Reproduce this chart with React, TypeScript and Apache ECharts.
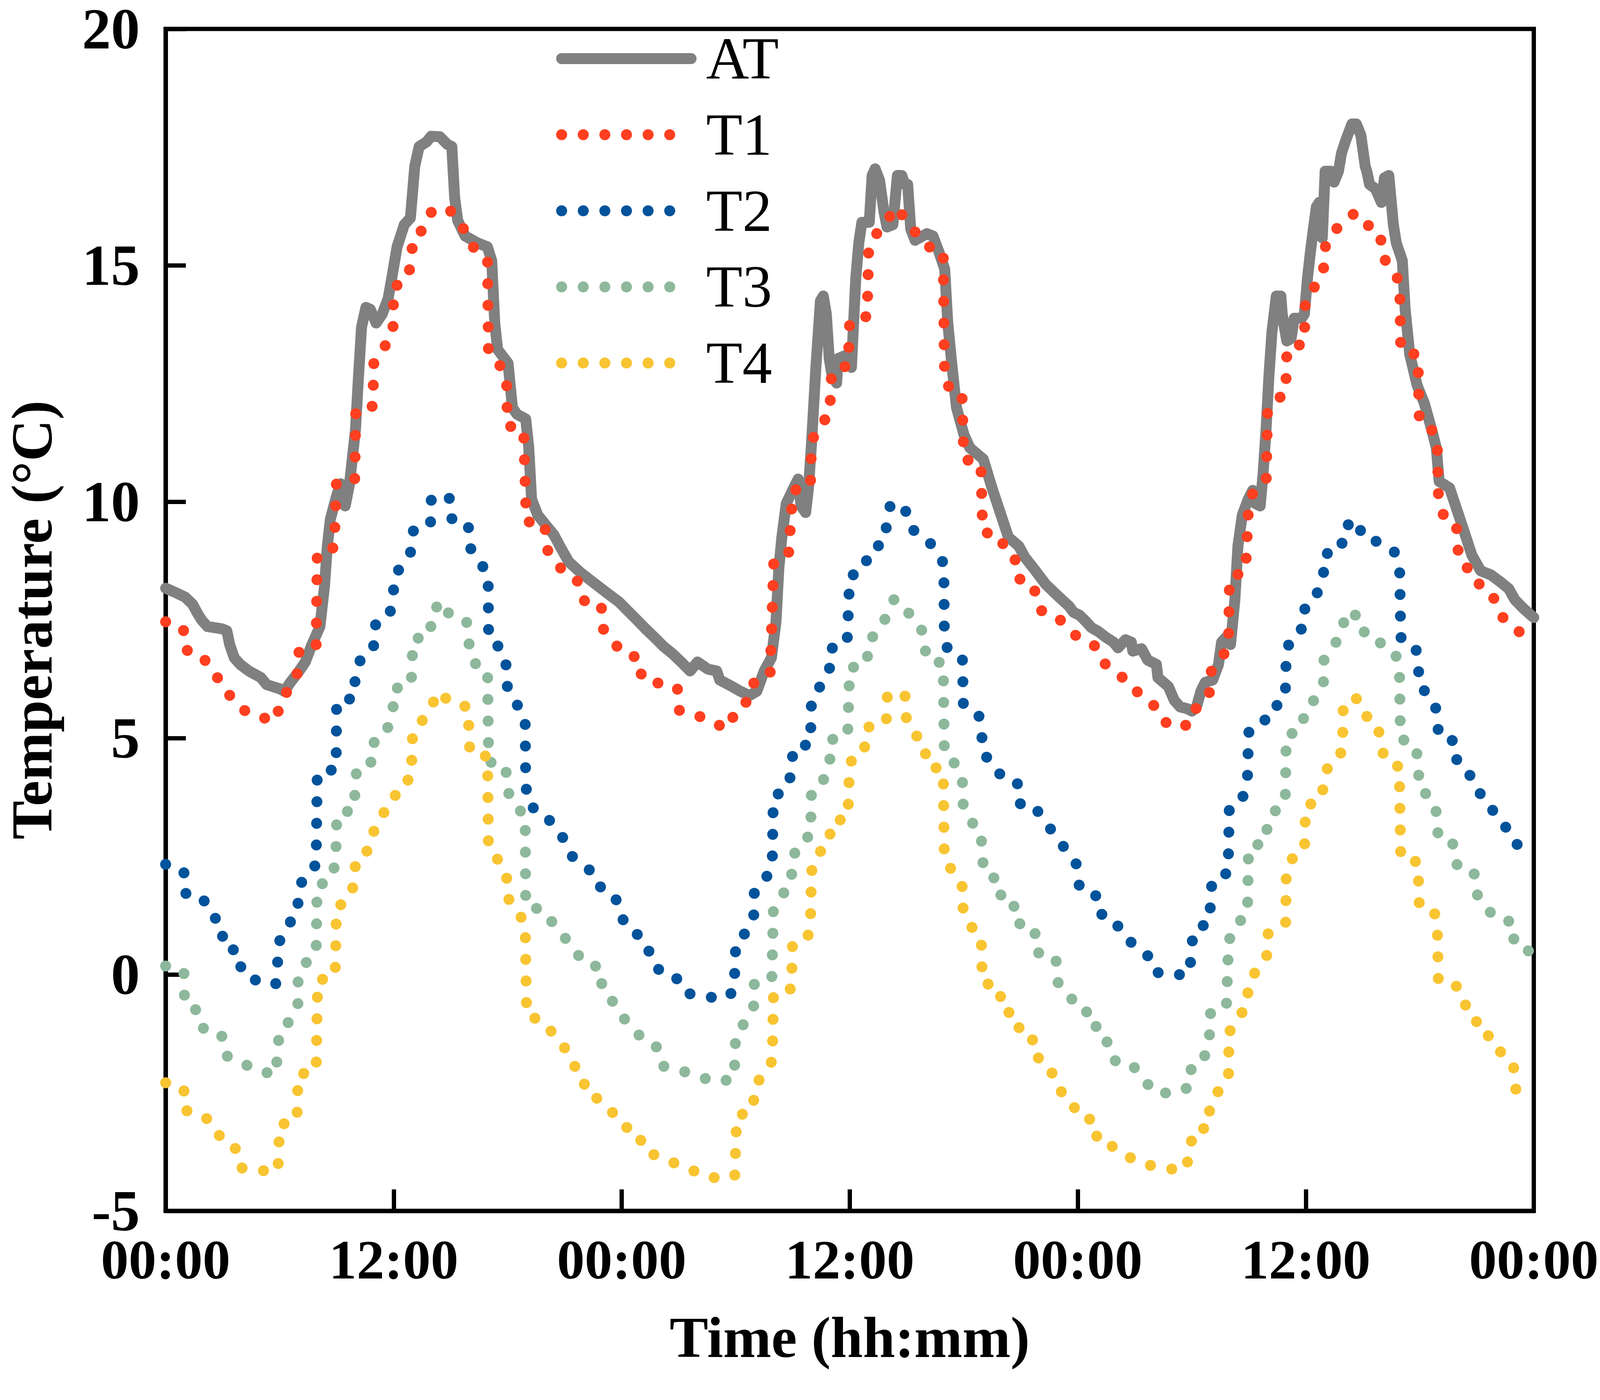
import React, { useEffect, useRef } from 'react';
import * as echarts from 'echarts';

// Hours since start (0..72) and temperatures in °C
const xTickHours = [0, 12, 24, 36, 48, 60, 72];
const xTickLabels = ['00:00', '12:00', '00:00', '12:00', '00:00', '12:00', '00:00'];
const seriesNames = ['AT', 'T1', 'T2', 'T3', 'T4'];

const AT: number[][] = [
  [0, 8.17], [0.57, 8.07], [1.03, 7.98], [1.42, 7.83], [1.66, 7.65], [1.89, 7.5], [2.2, 7.36], [2.98, 7.31], [3.22, 7.27], [3.37, 6.98],
  [3.61, 6.7], [3.92, 6.56], [4.38, 6.42], [5.01, 6.28], [5.32, 6.13], [6.02, 6.04], [6.25, 5.99], [6.57, 6.18], [7.03, 6.42], [7.35, 6.61],
  [7.66, 6.94], [8.12, 7.36], [8.36, 8.21], [8.51, 9.06], [8.67, 9.63], [8.98, 10.1], [9.21, 10.38], [9.45, 9.91], [9.68, 10.38], [9.99, 11.52],
  [10.15, 12.65], [10.31, 13.69], [10.54, 14.11], [10.77, 14.07], [11.08, 13.78], [11.4, 13.97], [11.71, 14.3], [11.94, 14.82], [12.18, 15.39], [12.56, 15.86],
  [12.88, 16.0], [13.11, 17.09], [13.34, 17.51], [13.73, 17.61], [13.97, 17.73], [14.43, 17.72], [14.82, 17.56], [15.06, 17.51], [15.21, 16.43], [15.37, 15.95],
  [15.76, 15.62], [16.38, 15.48], [16.93, 15.39], [17.16, 15.1], [17.32, 13.78], [17.47, 13.22], [18.02, 12.93], [18.25, 11.99], [18.49, 11.85], [18.95, 11.75],
  [19.11, 11.14], [19.26, 10.05], [19.58, 9.72], [20.04, 9.49], [20.43, 9.3], [20.75, 9.06], [21.21, 8.73], [21.84, 8.5], [22.61, 8.26], [23.39, 8.02],
  [23.86, 7.88], [24.33, 7.69], [24.8, 7.5], [25.26, 7.31], [25.73, 7.13], [26.2, 6.94], [26.66, 6.79], [27.13, 6.61], [27.6, 6.42], [27.99, 6.61],
  [28.53, 6.46], [29.0, 6.42], [29.16, 6.23], [29.63, 6.13], [30.25, 5.99], [30.72, 5.9], [31.11, 5.99], [31.5, 6.42], [31.88, 6.7], [32.12, 7.46],
  [32.27, 8.59], [32.43, 9.25], [32.66, 9.96], [33.05, 10.29], [33.29, 10.48], [33.44, 9.91], [33.68, 9.77], [33.83, 10.29], [33.99, 11.23], [34.22, 12.84],
  [34.46, 14.25], [34.61, 14.35], [34.77, 13.97], [34.92, 13.03], [35.08, 12.65], [35.31, 12.51], [35.39, 13.03], [35.94, 13.12], [36.09, 12.84], [36.32, 14.73],
  [36.48, 15.48], [36.64, 15.91], [37.03, 15.91], [37.18, 16.9], [37.34, 17.04], [37.57, 16.8], [37.8, 16.14], [37.96, 15.81], [38.27, 15.86], [38.51, 16.9],
  [38.74, 16.9], [38.9, 16.71], [39.05, 16.71], [39.21, 15.77], [39.44, 15.53], [40.06, 15.67], [40.38, 15.62], [40.69, 15.29], [41.0, 14.92], [41.16, 13.78],
  [41.39, 12.84], [41.62, 11.99], [42.01, 11.42], [42.32, 11.14], [43.03, 10.9], [43.49, 10.29], [43.96, 9.72], [44.35, 9.25], [44.9, 9.06], [45.21, 8.83],
  [45.68, 8.59], [46.3, 8.26], [46.92, 8.02], [47.54, 7.79],
  [47.78, 7.66], [48.09, 7.6], [48.4, 7.48], [48.71, 7.34], [49.1, 7.25], [49.49, 7.13], [49.88, 7.03], [50.12, 6.91], [50.51, 7.08], [50.82, 7.03],
  [50.9, 6.84], [51.36, 6.89], [51.68, 6.65], [52.14, 6.56], [52.22, 6.28], [52.77, 6.09], [53.08, 5.8], [53.39, 5.66], [53.78, 5.62], [54.01, 5.57],
  [54.25, 5.66], [54.48, 5.99], [54.71, 6.18], [55.1, 6.23], [55.41, 6.56], [55.57, 7.03], [55.8, 7.13], [56.04, 6.98], [56.27, 7.93], [56.43, 9.06],
  [56.66, 9.72], [56.97, 10.05], [57.21, 10.24], [57.36, 9.96], [57.6, 9.91], [57.75, 10.57], [57.91, 11.52], [58.06, 12.65], [58.22, 13.59], [58.45, 14.35],
  [58.69, 14.35], [58.76, 13.97], [59.0, 13.4], [59.23, 13.45], [59.39, 13.88], [59.78, 13.88], [59.93, 13.97], [60.09, 14.73], [60.25, 15.3], [60.4, 15.77],
  [60.56, 16.24], [60.71, 16.33], [60.87, 15.58], [61.02, 16.99], [61.34, 16.99], [61.49, 16.76], [61.72, 16.99], [61.88, 17.37], [62.11, 17.65], [62.43, 17.99],
  [62.66, 17.99], [62.9, 17.75], [63.13, 17.09], [63.21, 16.99], [63.36, 16.71], [63.67, 16.62], [63.98, 16.33], [64.14, 16.85], [64.37, 16.9], [64.61, 15.86],
  [64.76, 15.48], [65.08, 15.1], [65.23, 14.07], [65.47, 13.12], [65.86, 12.46], [66.24, 12.08], [66.63, 11.52], [66.87, 11.14], [67.02, 10.43], [67.57, 10.29],
  [67.96, 9.82], [68.35, 9.35], [68.74, 8.87], [69.2, 8.54], [69.75, 8.45], [70.22, 8.31], [70.68, 8.16], [71.0, 7.93], [71.46, 7.74], [71.85, 7.6], [72, 7.55],
];

const T1: number[][] = [
  [0, 7.46], [0.93, 7.34], [1.02, 6.87], [1.94, 6.75], [2.36, 6.42], [2.98, 6.18], [3.42, 5.87], [3.99, 5.62], [4.77, 5.45], [5.87, 5.38],
  [5.99, 5.8], [6.57, 6.06], [6.96, 6.4], [7.03, 6.89], [7.92, 6.96], [7.98, 8.92], [8.87, 9.03], [8.99, 10.43], [9.95, 10.48], [10.01, 11.97],
  [10.9, 12.02], [10.96, 12.98], [11.47, 13.25], [11.96, 13.54], [12.0, 14.54], [12.67, 14.68], [12.95, 15.07], [12.99, 15.58], [13.59, 15.77], [13.98, 16.12],
  [14.9, 16.21], [15.38, 15.9], [15.96, 15.65], [16.29, 15.28], [16.94, 15.1], [16.99, 13.14], [17.55, 12.91], [17.94, 12.6], [17.99, 11.61], [18.84, 11.52],
  [18.98, 9.58], [19.97, 9.53], [20.0, 9.03], [20.98, 8.49], [21.71, 8.31], [21.99, 7.91], [22.93, 7.84], [22.96, 7.34], [23.52, 7.09], [23.99, 6.79],
  [24.92, 6.7], [25.06, 6.25], [25.96, 6.16], [26.93, 6.07], [27.01, 5.59], [27.94, 5.5], [28.69, 5.31], [29.7, 5.22], [29.98, 5.63], [30.72, 5.8],
  [30.98, 6.2], [31.81, 6.34], [32.0, 8.7], [32.77, 8.83], [33.01, 10.24], [33.93, 10.31], [33.99, 11.25], [34.33, 11.61], [34.94, 11.82], [35.05, 12.76],
  [35.92, 12.88], [36.0, 13.83], [36.92, 13.92], [37.0, 15.39], [37.42, 15.67], [37.95, 15.93], [38.43, 16.24], [38.94, 15.97], [39.47, 15.69], [39.99, 15.41],
  [40.92, 15.31], [40.98, 12.91], [41.08, 12.46], [41.9, 12.34], [42.01, 10.9], [42.9, 10.81], [43.0, 9.36], [43.93, 9.28], [44.22, 8.9], [44.93, 8.71],
  [44.97, 8.24], [45.8, 8.1], [46.06, 7.7], [46.92, 7.58], [47.47, 7.3], [48.2, 7.08], [48.95, 6.94], [49.34, 6.61], [49.96, 6.37], [50.74, 6.2],
  [51.24, 5.92], [51.96, 5.72], [52.38, 5.4], [53.12, 5.21], [53.95, 5.3], [54.29, 5.7], [54.92, 5.92], [54.98, 6.39], [55.52, 6.64], [55.93, 6.97],
  [55.99, 8.4], [56.83, 8.52], [56.99, 9.93], [57.3, 10.28], [57.92, 10.49], [57.99, 11.94], [58.25, 12.1], [58.94, 12.29], [59.01, 13.25], [59.92, 13.34],
  [59.98, 14.3], [60.51, 14.57], [60.93, 14.87], [60.98, 15.35], [61.37, 15.67], [61.96, 15.91], [62.63, 16.12], [63.22, 15.86], [63.94, 15.69], [63.98, 15.2],
  [64.55, 14.94], [64.94, 14.63], [65.0, 13.2], [65.9, 13.1], [65.98, 11.66], [66.73, 11.49], [66.93, 11.08], [66.98, 10.13], [67.2, 9.74], [67.93, 9.56],
  [67.96, 9.08], [68.18, 8.67], [68.92, 8.51], [69.24, 8.12], [69.92, 7.95], [70.28, 7.58], [70.95, 7.38], [71.51, 7.12], [72, 6.95],
];

const T2: number[][] = [
  [0, 2.33], [0.96, 2.2], [1.0, 1.72], [1.94, 1.65], [2.28, 1.28], [2.98, 1.09], [3.01, 0.58], [3.87, 0.49], [3.99, 0.04], [4.79, -0.13],
  [5.79, -0.21], [5.99, 0.7], [6.38, 1.03], [6.96, 1.28], [6.97, 1.75], [7.31, 2.11], [7.92, 2.32], [7.98, 4.27], [8.97, 4.34], [9.0, 5.79],
  [9.93, 5.84], [9.98, 6.35], [10.29, 6.7], [10.94, 6.89], [10.98, 7.38], [11.74, 7.55], [11.99, 7.95], [12.0, 8.43], [12.52, 8.68], [12.97, 8.99],
  [13.05, 9.45], [13.94, 9.56], [13.98, 10.04], [14.92, 10.13], [14.98, 9.65], [15.93, 9.55], [15.96, 9.08], [16.38, 8.77], [16.97, 8.5], [17.0, 7.07],
  [17.71, 6.89], [17.94, 6.5], [17.99, 6.03], [18.44, 5.74], [18.92, 5.45], [18.95, 4.0], [19.13, 3.56], [19.97, 3.42], [20.4, 3.12], [20.98, 2.86],
  [21.34, 2.52], [21.96, 2.3], [22.69, 2.11], [22.97, 1.74], [23.7, 1.59], [23.99, 1.18], [24.72, 0.99], [24.98, 0.62], [25.7, 0.42], [25.99, 0.05],
  [26.87, -0.07], [27.32, -0.39], [28.35, -0.46], [29.38, -0.52], [29.91, -0.35], [30.01, 0.7], [30.61, 0.91], [30.95, 1.26], [30.98, 1.75], [31.53, 1.99],
  [31.92, 2.3], [31.98, 3.76], [32.69, 3.92], [32.96, 4.31], [33.01, 4.8], [33.93, 4.87], [33.99, 5.84], [34.47, 6.11], [34.93, 6.41], [34.98, 6.89],
  [35.86, 7.0], [36.0, 8.42], [36.78, 8.56], [37.0, 8.98], [37.8, 9.12], [37.96, 9.55], [38.16, 9.98], [38.93, 9.82], [39.21, 9.43], [39.96, 9.26],
  [40.5, 8.99], [40.95, 8.69], [40.98, 7.25], [41.16, 6.84], [41.93, 6.68], [41.98, 5.73], [42.76, 5.55], [42.95, 5.15], [42.98, 4.67], [43.62, 4.46],
  [44.04, 4.13], [44.94, 4.02], [44.99, 3.53], [45.9, 3.45], [46.42, 3.16], [46.94, 2.87], [47.47, 2.59], [47.95, 2.32], [48.08, 1.88], [48.92, 1.75],
  [49.06, 1.3], [49.95, 1.18], [50.3, 0.84], [50.97, 0.63], [51.66, 0.42], [51.99, 0.06], [52.94, -0.02], [53.9, 0.02], [53.97, 0.52], [54.11, 0.95],
  [54.92, 1.09], [55.07, 2.01], [55.91, 2.15], [55.98, 3.58], [56.69, 3.76], [56.93, 4.14], [56.99, 5.12], [57.75, 5.26], [58.06, 5.64], [58.31, 5.64],
  [58.92, 5.82], [58.97, 6.78], [59.22, 7.15], [59.92, 7.35], [59.96, 7.83], [60.59, 8.06], [60.93, 8.4], [60.96, 8.89], [61.88, 8.97], [61.96, 9.45],
  [62.71, 9.62], [63.0, 9.23], [63.94, 9.14], [64.65, 8.95], [64.94, 8.57], [65.0, 7.13], [65.76, 6.98], [65.93, 6.56], [65.96, 6.09], [66.63, 5.88],
  [66.94, 5.51], [66.98, 5.03], [67.88, 4.93], [67.96, 4.46], [68.61, 4.24], [68.94, 3.9], [69.62, 3.69], [69.97, 3.34], [70.56, 3.1], [70.96, 2.77], [72, 2.65],
];

const T3: number[][] = [
  [0, 0.18], [0.96, 0.08], [1.0, -0.64], [1.78, -0.78], [2.02, -1.19], [2.95, -1.29], [3.14, -1.71], [3.96, -1.85], [4.74, -2.02], [5.79, -2.12],
  [5.99, -1.19], [6.57, -0.97], [6.96, -0.63], [6.97, -0.15], [7.27, 0.21], [7.92, 0.43], [7.97, 1.86], [8.75, 2.03], [8.95, 2.43], [9.01, 3.39],
  [9.95, 3.49], [9.96, 3.95], [10.07, 4.39], [10.94, 4.51], [10.98, 4.99], [11.66, 5.19], [11.96, 5.55], [12.0, 6.04], [12.92, 6.13], [13.02, 7.09],
  [13.94, 7.17], [13.98, 7.65], [14.56, 7.9], [14.98, 7.57], [15.84, 7.45], [15.96, 7.01], [16.18, 6.6], [16.94, 6.45], [17.0, 4.5], [17.91, 4.41],
  [17.94, 3.95], [18.3, 3.59], [18.92, 3.37], [18.95, 1.45], [19.93, 1.36], [20.4, 1.07], [20.96, 0.8], [21.52, 0.54], [21.98, 0.24], [22.9, 0.15],
  [22.97, -0.32], [23.52, -0.57], [23.99, -0.88], [24.61, -1.12], [25.15, -1.41], [25.93, -1.55], [26.21, -1.94], [27.18, -2.04], [28.08, -2.16], [29.02, -2.28],
  [29.92, -2.2], [30.0, -1.24], [30.53, -1.0], [30.95, -0.66], [30.98, -0.19], [31.9, -0.1], [31.98, 1.34], [32.38, 1.66], [32.93, 1.9], [32.96, 2.39],
  [33.27, 2.76], [33.94, 2.95], [33.99, 3.92], [34.64, 4.13], [34.95, 4.47], [34.98, 4.96], [35.89, 5.06], [36.0, 6.48], [36.92, 6.57], [36.96, 7.05],
  [37.57, 7.28], [37.98, 7.62], [38.35, 7.95], [38.94, 7.71], [39.57, 7.46], [39.96, 7.14], [40.0, 6.68], [40.92, 6.58], [40.98, 4.66], [41.59, 4.44],
  [41.93, 4.09], [41.97, 3.6], [42.31, 3.26], [42.92, 3.03], [42.95, 2.54], [43.1, 2.12], [43.93, 1.99], [43.97, 1.5], [44.91, 1.42], [44.97, 0.94],
  [45.91, 0.85], [45.95, 0.38], [46.87, 0.28], [46.97, -0.18], [47.56, -0.42], [47.98, -0.75], [48.92, -0.83], [49.0, -1.31], [49.74, -1.47], [50.01, -1.87],
  [50.94, -1.95], [51.49, -2.22], [52.03, -2.5], [53.14, -2.51], [53.93, -2.37], [53.98, -1.88], [54.71, -1.71], [54.93, -1.31], [54.96, -0.83], [55.82, -0.71],
  [55.94, 0.7], [56.29, 1.05], [56.93, 1.26], [56.99, 2.7], [57.91, 2.79], [57.99, 3.26], [58.25, 3.42], [58.92, 3.61], [58.97, 5.05], [59.79, 5.18],
  [59.96, 5.62], [60.56, 5.85], [60.93, 6.19], [60.96, 6.66], [61.46, 6.95], [61.93, 7.23], [62.07, 7.67], [62.93, 7.56], [63.13, 7.13], [63.95, 7.01],
  [64.7, 6.82], [64.93, 6.43], [64.98, 4.99], [65.79, 4.85], [65.93, 4.42], [65.96, 3.93], [66.63, 3.73], [66.93, 3.36], [66.96, 2.87], [67.8, 2.75],
  [67.96, 2.32], [68.85, 2.2], [68.92, 1.75], [69.41, 1.46], [70.0, 1.18], [70.92, 1.11], [70.96, 0.62], [71.78, 0.49], [72, 0.46],
];

const T4: number[][] = [
  [0, -2.29], [0.96, -2.41], [1.0, -2.87], [1.94, -2.97], [2.59, -3.2], [2.98, -3.54], [3.76, -3.7], [3.99, -4.09], [4.98, -4.15], [5.91, -4.15],
  [6.0, -3.18], [6.91, -3.09], [6.97, -2.12], [7.92, -2.04], [8.0, -0.13], [8.92, -0.03], [8.99, 1.41], [9.65, 1.6], [9.96, 1.97], [9.99, 2.45],
  [10.71, 2.64], [10.96, 3.03], [11.33, 3.37], [11.96, 3.59], [12.21, 3.99], [12.92, 4.15], [13.0, 5.12], [13.52, 5.38], [13.97, 5.67], [14.4, 5.99],
  [14.98, 5.74], [15.91, 5.66], [16.01, 4.69], [16.94, 4.61], [16.99, 2.67], [17.5, 2.42], [17.94, 2.12], [17.99, 1.63], [18.48, 1.36], [18.92, 1.07],
  [19.0, -0.87], [19.86, -0.98], [20.4, -1.26], [20.95, -1.51], [21.32, -1.87], [21.96, -2.09], [22.1, -2.52], [22.94, -2.66], [23.52, -2.92], [23.99, -3.2],
  [24.87, -3.31], [25.15, -3.72], [25.98, -3.86], [26.84, -4.0], [27.72, -4.14], [28.53, -4.29], [29.64, -4.31], [29.95, -4.25], [30.05, -3.0], [30.93, -2.87],
  [30.97, -2.4], [31.42, -2.11], [31.92, -1.83], [31.99, -0.4], [32.93, -0.3], [32.99, 0.66], [33.8, 0.8], [33.94, 1.22], [33.99, 2.18], [34.27, 2.54],
  [34.94, 2.76], [35.0, 3.22], [35.9, 3.31], [35.98, 4.28], [36.17, 4.69], [36.92, 4.84], [37.03, 5.31], [37.93, 5.4], [37.98, 5.88], [38.91, 5.95],
  [38.94, 5.47], [39.3, 5.12], [39.96, 4.9], [40.02, 4.43], [40.92, 4.33], [40.98, 2.41], [41.5, 2.15], [41.93, 1.85], [41.97, 1.36], [42.35, 1.03],
  [42.92, 0.8], [42.98, -0.17], [43.91, -0.27], [43.97, -0.75], [44.83, -0.86], [44.97, -1.31], [45.86, -1.41], [45.95, -1.87], [46.64, -2.08], [46.95, -2.43],
  [47.65, -2.62], [47.99, -3.0], [48.93, -3.09], [49.03, -3.55], [49.95, -3.65], [50.63, -3.85], [51.49, -4.01], [52.49, -4.09], [53.58, -4.15], [53.95, -3.8],
  [54.01, -3.32], [54.9, -3.23], [54.95, -2.76], [55.41, -2.46], [55.93, -2.19], [55.96, -1.23], [56.4, -0.93], [56.93, -0.66], [56.97, -0.18], [57.44, 0.11],
  [57.94, 0.38], [58.02, 0.86], [58.27, 0.89], [58.94, 1.09], [58.97, 2.04], [59.22, 2.43], [59.93, 2.61], [59.99, 3.56], [60.84, 3.7], [60.96, 4.13],
  [61.26, 4.51], [61.93, 4.71], [61.97, 5.66], [62.63, 5.87], [62.97, 5.51], [63.72, 5.35], [63.95, 4.95], [64.14, 4.53], [64.92, 4.39], [65.0, 2.46],
  [65.9, 2.38], [65.98, 1.41], [66.8, 1.28], [66.93, 0.83], [66.98, -0.13], [67.9, -0.22], [68.21, -0.59], [68.91, -0.79], [69.06, -1.22], [69.92, -1.34],
  [70.31, -1.69], [70.93, -1.91], [71.01, -2.4], [71.1, -2.45],
];

const seriesData = [AT, T1, T2, T3, T4];
const seriesColors = ['#808080', '#FF3F1F', '#02539B', '#8DB89B', '#F8C431'];

const FONT = 'Liberation Serif';
const DESIGN_W = 4350;
const DESIGN_H = 3583;

if (typeof document !== 'undefined') {
  document.body.style.margin = '0';
}

export default function App() {
  const ref = useRef<HTMLDivElement>(null);

  useEffect(() => {
    document.body.style.margin = '0';
    const el = ref.current as HTMLDivElement;
    const chart = echarts.init(el, undefined, { renderer: 'svg' });
    // the browser viewport may be narrower than the design width: scale horizontal layout to fit
    const W = el.clientWidth || DESIGN_W;
    const s = Math.min(1, W / DESIGN_W);
    const hx = (v: number) => v * s;

    const legendWidth = hx(352);
    const dotGap = legendWidth / 6;

    const series = seriesNames.map((name, i) => ({
      name,
      type: 'line',
      data: seriesData[i],
      symbol: 'none',
      showSymbol: false,
      silent: true,
      z: 2 + i,
      itemStyle: { color: seriesColors[i] },
      lineStyle: i === 0
        ? { color: seriesColors[i], width: 28, type: 'solid', cap: 'round', join: 'round' }
        : { color: seriesColors[i], width: 28, type: [0.1, dotGap], cap: 'round', join: 'round' },
      emphasis: { disabled: true },
    }));

    chart.setOption({
      animation: false,
      backgroundColor: '#ffffff',
      grid: {
        left: hx(397), right: hx(180), top: 60, bottom: 484,
        show: true, borderColor: '#000', borderWidth: 11, backgroundColor: 'transparent',
      },
      legend: {
        orient: 'vertical',
        left: hx(1512),
        top: 70,
        padding: 0,
        itemWidth: legendWidth,
        itemHeight: 160,
        itemGap: 34.75,
        selectedMode: false,
        data: seriesNames,
        lineStyle: { width: 28, cap: 'round' },
        itemStyle: { opacity: 0 },
        textStyle: {
          fontFamily: FONT, fontSize: 152, lineHeight: 160, color: '#000',
          padding: [0, 0, 0, hx(1905) - hx(1512) - legendWidth - 5],
        },
      },
      xAxis: {
        type: 'value',
        min: 0,
        max: 72,
        interval: 12,
        axisLine: { show: true, onZero: false, lineStyle: { color: '#000', width: 11 } },
        axisTick: { show: true, inside: true, length: 55, lineStyle: { color: '#000', width: 11 } },
        splitLine: { show: false },
        axisLabel: {
          margin: 54,
          fontFamily: FONT,
          fontSize: 142,
          fontWeight: 'bold',
          color: '#000',
          formatter: (v: number) => {
            const k = xTickHours.indexOf(v);
            return k >= 0 ? xTickLabels[k] : '';
          },
        },
        name: 'Time (hh:mm)',
        nameLocation: 'middle',
        nameGap: 250,
        nameTextStyle: { fontFamily: FONT, fontSize: 148, fontWeight: 'bold', color: '#000' },
      },
      yAxis: {
        type: 'value',
        min: -5,
        max: 20,
        interval: 5,
        axisLine: { show: true, onZero: false, lineStyle: { color: '#000', width: 11 } },
        axisTick: { show: true, inside: true, length: hx(55), lineStyle: { color: '#000', width: 11 } },
        splitLine: { show: false },
        axisLabel: {
          margin: hx(70),
          fontFamily: FONT,
          fontSize: 148,
          lineHeight: 100,
          fontWeight: 'bold',
          color: '#000',
        },
        name: 'Temperature (°C)',
        nameLocation: 'middle',
        nameGap: 268,
        nameTextStyle: { fontFamily: FONT, fontSize: 148, fontWeight: 'bold', color: '#000' },
      },
      series,
    });

    return () => {
      chart.dispose();
    };
  }, []);

  return <div ref={ref} style={{ width: '100%', maxWidth: DESIGN_W, height: DESIGN_H, background: '#fff' }} />;
}
